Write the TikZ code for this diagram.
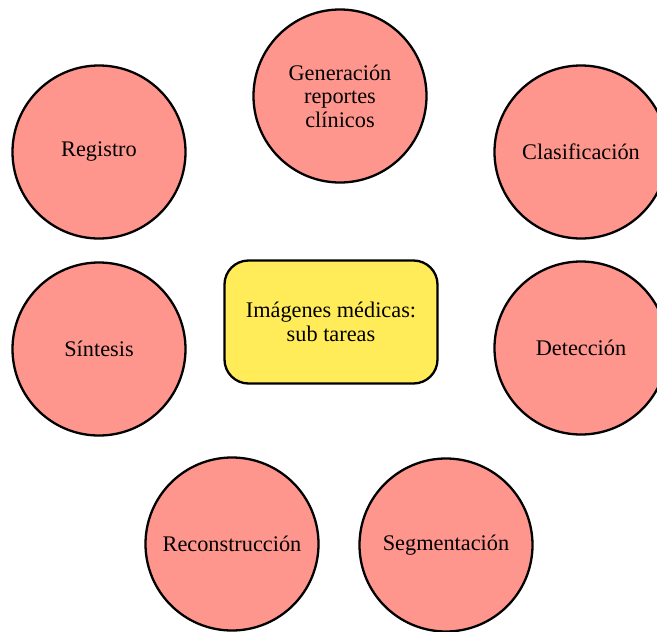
\documentclass[tikz,border=0pt]{standalone}
\usepackage{fontspec}
\setmainfont{Liberation Serif}
\definecolor{taskfill}{RGB}{255,150,142}
\definecolor{hubfill}{RGB}{255,236,88}
\tikzset{
  task/.style={circle, draw=black, line width=2.3pt, fill=taskfill,
    minimum size=173pt, inner sep=0pt, align=center,
    font=\fontsize{22.3}{23.5}\selectfont},
  hub/.style={rectangle, rounded corners=24pt, draw=black, line width=2.3pt,
    fill=hubfill, minimum width=213pt, minimum height=123pt,
    align=center, font=\fontsize{22.3}{23.5}\selectfont}
}
\begin{document}
\begin{tikzpicture}[x=1pt,y=-1pt]
  \useasboundingbox (0,0) rectangle (657,632);
  \begin{scope}
    \clip (0,0) rectangle (657,632);
    \node[hub] (hub) at (331,322) {Imágenes médicas:\\sub tareas};
    \node[task] (gen) at (340,96) {Generación\\reportes\\clínicos};
    \node[task] (reg) at (99,152) {Registro};
    \node[task] (cla) at (581,152) {Clasificación};
    \node[task] (sin) at (99,349) {Síntesis};
    \node[task] (det) at (581,348) {Detección};
    \node[task] (rec) at (232,544) {Reconstrucción};
    \node[task] (seg) at (446,545) {Segmentación};
  \end{scope}
\end{tikzpicture}
\end{document}
